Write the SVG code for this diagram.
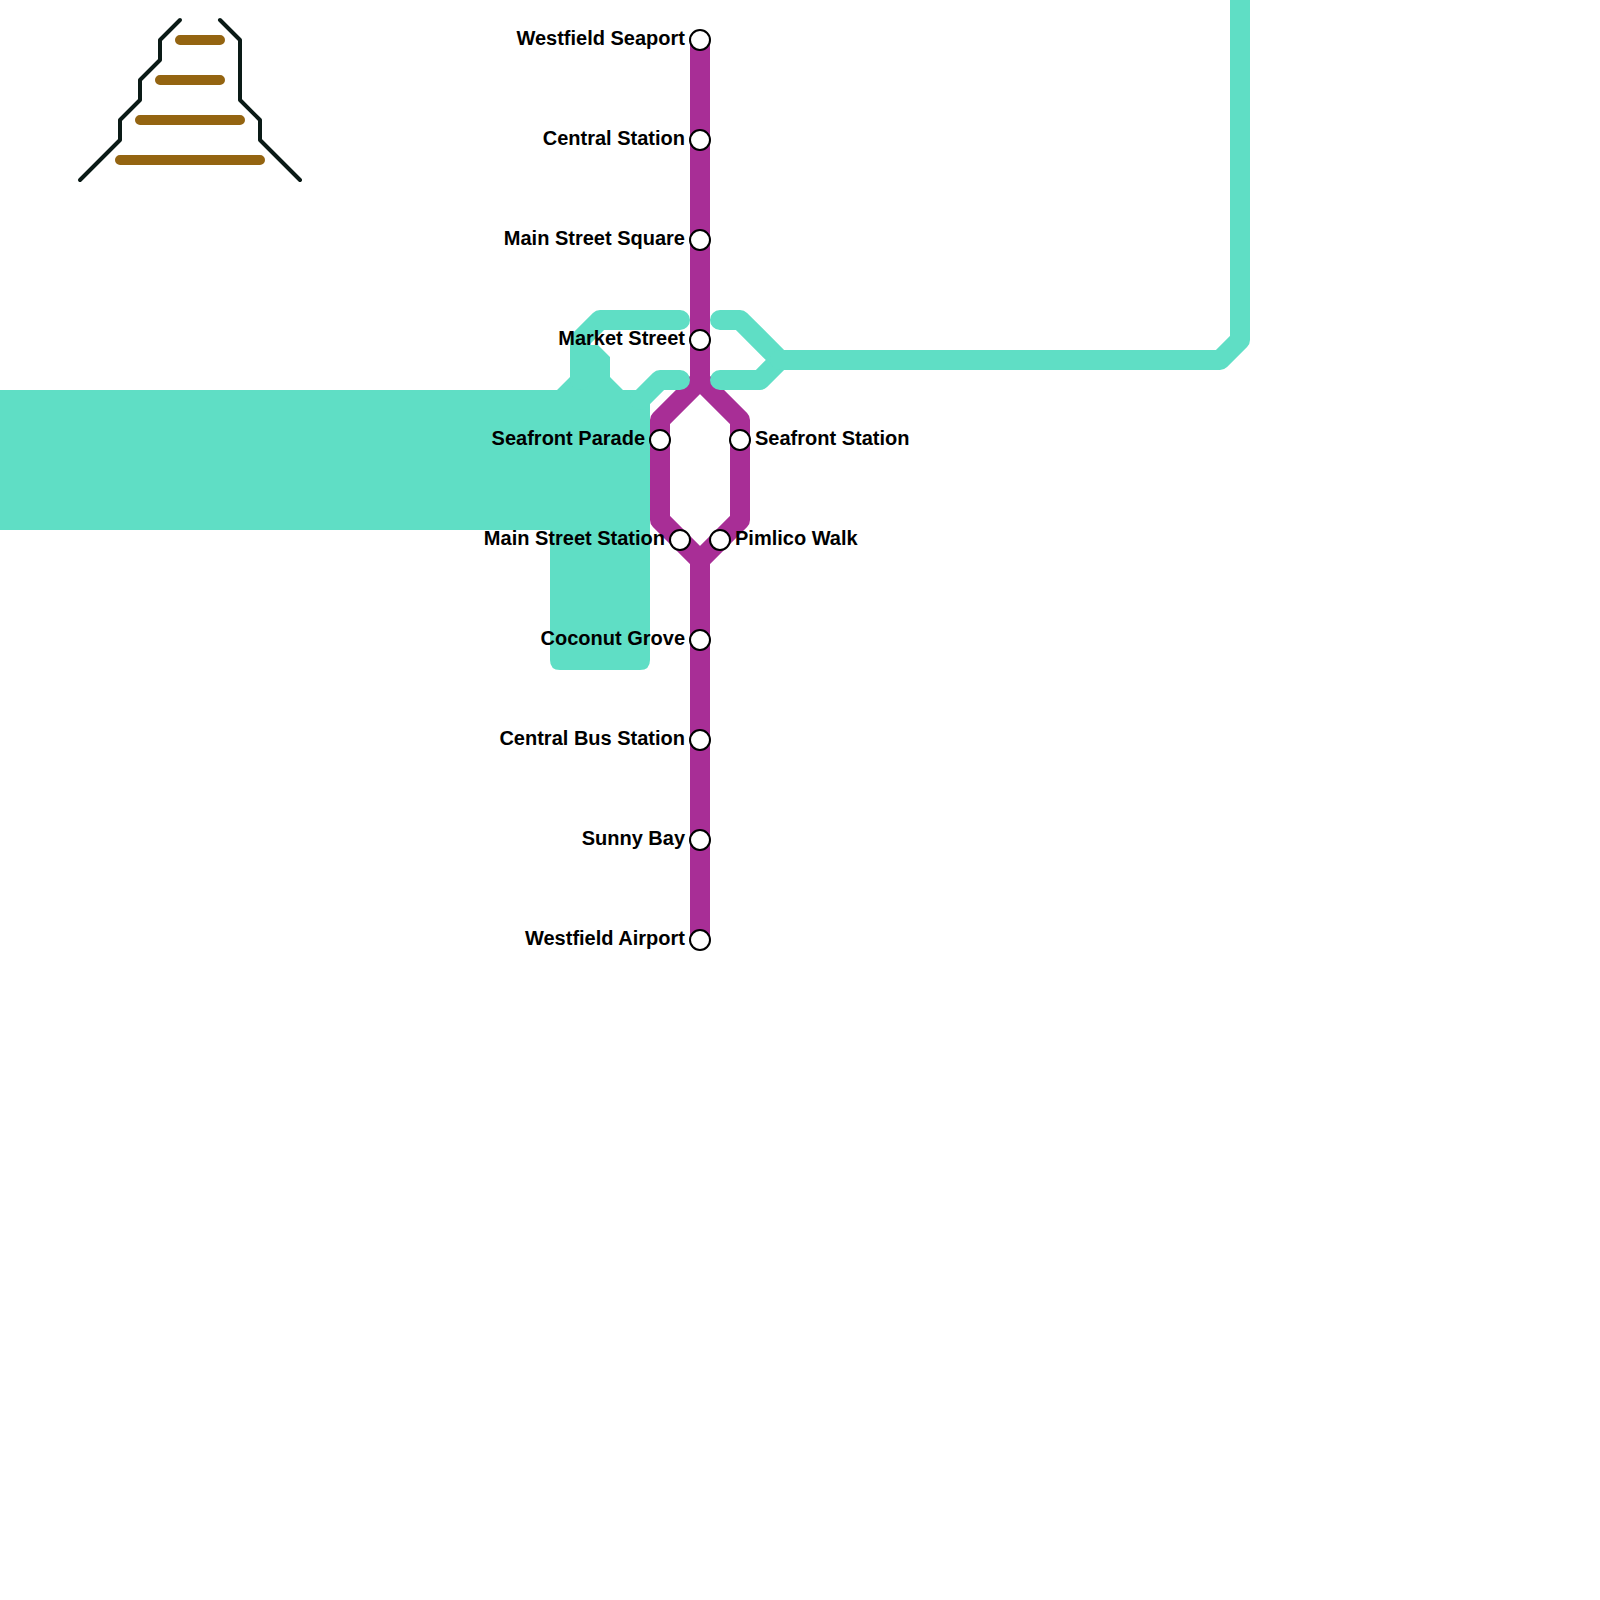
<svg xmlns="http://www.w3.org/2000/svg" width="1600" height="1600" viewBox="0 0 1600 1600">
<style>
.l{fill:none;stroke-linecap:round;stroke-linejoin:round}
.teal{stroke:#5fdec5;stroke-width:20}
.purple{stroke:#a82e96;stroke-width:20;stroke-linecap:butt}
.rail{stroke:#0a1a16;stroke-width:4}
.tread{stroke:#946411;stroke-width:10}
.s{fill:#fff;stroke:#000;stroke-width:2}
text{font-family:Helvetica,Arial,"Liberation Sans",sans-serif;font-weight:700;font-size:20px;fill:#000}
.e{text-anchor:end}
</style>
<g id="connectors">
<path class="l purple" d="M700 40V380L660 420V520L700 560V940"/>
<path class="l purple" d="M700 380L740 420V520L700 560"/>
<path fill="#5fdec5" d="M0 390H557L570 377V345H598L610 357V377L623 390H650V660Q650 670 640 670H560Q550 670 550 660V530H0Z"/>
<path class="l teal" d="M680 320H600L580 340V380"/>
<path class="l teal" d="M680 380H660L640 400"/>
<path class="l teal" d="M720 320H740L780 360L760 380H720"/>
<path class="l teal" d="M780 360H1220L1240 340V-10"/>
<path class="l rail" d="M80 180L120 140V120L140 100V80L160 60V40L180 20"/>
<path class="l rail" d="M220 20L240 40V100L260 120V140L300 180"/>
<path class="l tread" d="M180 40H220M160 80H220M140 120H240M120 160H260"/>
</g>
<g id="westfield-seaport"><circle class="s" cx="700" cy="40" r="10"/><text class="e" x="685" y="45">Westfield Seaport</text></g>
<g id="central-station"><circle class="s" cx="700" cy="140" r="10"/><text class="e" x="685" y="145">Central Station</text></g>
<g id="main-street-square"><circle class="s" cx="700" cy="240" r="10"/><text class="e" x="685" y="245">Main Street Square</text></g>
<g id="market-street"><circle class="s" cx="700" cy="340" r="10"/><text class="e" x="685" y="345">Market Street</text></g>
<g id="seafront-parade"><circle class="s" cx="660" cy="440" r="10"/><text class="e" x="645" y="445">Seafront Parade</text></g>
<g id="seafront-station"><circle class="s" cx="740" cy="440" r="10"/><text x="755" y="445">Seafront Station</text></g>
<g id="main-street-station"><circle class="s" cx="680" cy="540" r="10"/><text class="e" x="665" y="545">Main Street Station</text></g>
<g id="pimlico-walk"><circle class="s" cx="720" cy="540" r="10"/><text x="735" y="545">Pimlico Walk</text></g>
<g id="coconut-grove"><circle class="s" cx="700" cy="640" r="10"/><text class="e" x="685" y="645">Coconut Grove</text></g>
<g id="central-bus-station"><circle class="s" cx="700" cy="740" r="10"/><text class="e" x="685" y="745">Central Bus Station</text></g>
<g id="sunny-bay"><circle class="s" cx="700" cy="840" r="10"/><text class="e" x="685" y="845">Sunny Bay</text></g>
<g id="westfield-airport"><circle class="s" cx="700" cy="940" r="10"/><text class="e" x="685" y="945">Westfield Airport</text></g>
</svg>
